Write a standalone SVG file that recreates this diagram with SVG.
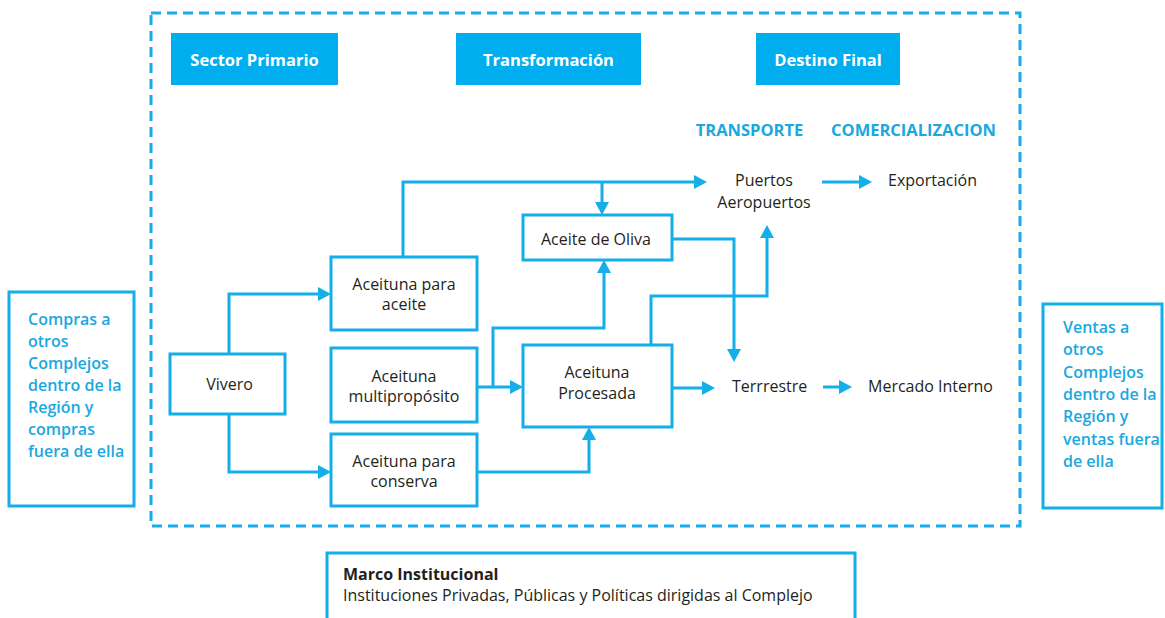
<svg xmlns="http://www.w3.org/2000/svg" width="1165" height="618" viewBox="0 0 1165 618">
<defs>
<marker id="ah" viewBox="0 0 13 14" refX="9" refY="7" markerWidth="13" markerHeight="14" markerUnits="userSpaceOnUse" orient="auto">
<path d="M0,0 L13,7 L0,14 z" fill="#14aee8"/>
</marker>
</defs>
<style>
.box{fill:#fff;stroke:#14aee8;stroke-width:3}
.hdr{fill:#00aeef}
.hdrt{font-family:"Open Sans",sans-serif;font-weight:700;font-size:16.5px;fill:#fff;text-anchor:middle}
.sub{font-family:"Open Sans",sans-serif;font-weight:700;font-size:16.5px;fill:#19a8e0;text-anchor:middle}
.t{font-family:"Open Sans",sans-serif;font-size:16px;fill:#231f20}
.m{text-anchor:middle}
.side{font-family:"Open Sans",sans-serif;font-weight:600;font-size:16px;fill:#19a8e0}
.con{fill:none;stroke:#14aee8;stroke-width:3;marker-end:url(#ah)}
</style>
<rect width="1165" height="618" fill="#fff"/>
<rect x="151" y="13" width="869" height="513" fill="none" stroke="#14aee8" stroke-width="3" stroke-dasharray="10 6"/>

<g id="hdr-primario"><rect class="hdr" x="171" y="33" width="167" height="52"/><text class="hdrt" x="254.5" y="66">Sector Primario</text></g>
<g id="hdr-transformacion"><rect class="hdr" x="456" y="33" width="185" height="52"/><text class="hdrt" x="548.5" y="66">Transformación</text></g>
<g id="hdr-destino"><rect class="hdr" x="756" y="33" width="144" height="52"/><text class="hdrt" x="828" y="66">Destino Final</text></g>
<g id="lbl-transporte"><text class="sub" x="749.5" y="136">TRANSPORTE</text></g>
<g id="lbl-comercializacion"><text class="sub" x="913.5" y="136">COMERCIALIZACION</text></g>

<g id="compras"><rect class="box" x="9" y="292" width="125" height="214"/>
<text class="side" x="28" y="325">Compras a</text>
<text class="side" x="28" y="347">otros</text>
<text class="side" x="28" y="369">Complejos</text>
<text class="side" x="28" y="391">dentro de la</text>
<text class="side" x="28" y="413">Región y</text>
<text class="side" x="28" y="435">compras</text>
<text class="side" x="28" y="457">fuera de ella</text></g>

<g id="ventas"><rect class="box" x="1043" y="304" width="119" height="204"/>
<text class="side" x="1063" y="333">Ventas a</text>
<text class="side" x="1063" y="355">otros</text>
<text class="side" x="1063" y="378">Complejos</text>
<text class="side" x="1063" y="400">dentro de la</text>
<text class="side" x="1063" y="422">Región y</text>
<text class="side" x="1063" y="445">ventas fuera</text>
<text class="side" x="1063" y="467">de ella</text></g>

<g id="connectors">
<path class="con" d="M229,354 V294 H327"/>
<path class="con" d="M229,414 V472 H327"/>
<path class="con" d="M403,257 V182 H703"/>
<path class="con" d="M602,182 V211"/>
<path class="con" d="M477,387 H519"/>
<path class="con" d="M493,387 V328 H604 V264"/>
<path class="con" d="M477,472 H589 V431"/>
<path class="con" d="M672,239 H734 V358"/>
<path class="con" d="M651,345 V296 H767 V229"/>
<path class="con" d="M672,388 H711"/>
<path class="con" d="M822,182 H868"/>
<path class="con" d="M823,387 H848"/>
</g>

<g id="vivero"><rect class="box" x="170" y="354" width="115" height="60"/><text class="t m" x="229.5" y="390">Vivero</text></g>
<g id="aceituna-aceite"><rect class="box" x="331" y="257" width="146" height="73"/><text class="t m" x="404" y="290">Aceituna para</text><text class="t m" x="404" y="310">aceite</text></g>
<g id="aceituna-multi"><rect class="box" x="331" y="348" width="146" height="74"/><text class="t m" x="404" y="382">Aceituna</text><text class="t m" x="404" y="402">multipropósito</text></g>
<g id="aceituna-conserva"><rect class="box" x="331" y="434" width="146" height="72"/><text class="t m" x="404" y="467">Aceituna para</text><text class="t m" x="404" y="487">conserva</text></g>
<g id="aceite-oliva"><rect class="box" x="523" y="215" width="149" height="45"/><text class="t m" x="596" y="245">Aceite de Oliva</text></g>
<g id="aceituna-procesada"><rect class="box" x="523" y="345" width="149" height="82"/><text class="t m" x="597" y="378">Aceituna</text><text class="t m" x="597" y="399">Procesada</text></g>
<g id="puertos"><text class="t m" x="764" y="186">Puertos</text><text class="t m" x="764" y="208">Aeropuertos</text></g>
<g id="exportacion"><text class="t" x="888" y="186">Exportación</text></g>
<g id="terrestre"><text class="t" x="732" y="392">Terrrestre</text></g>
<g id="mercado"><text class="t" x="868" y="392">Mercado Interno</text></g>

<g id="marco"><rect class="box" x="327" y="553" width="528" height="80"/>
<text class="t" x="343" y="580" font-weight="700">Marco Institucional</text>
<text class="t" x="343" y="601" font-size="16.5">Instituciones Privadas, Públicas y Políticas dirigidas al Complejo</text></g>
</svg>
